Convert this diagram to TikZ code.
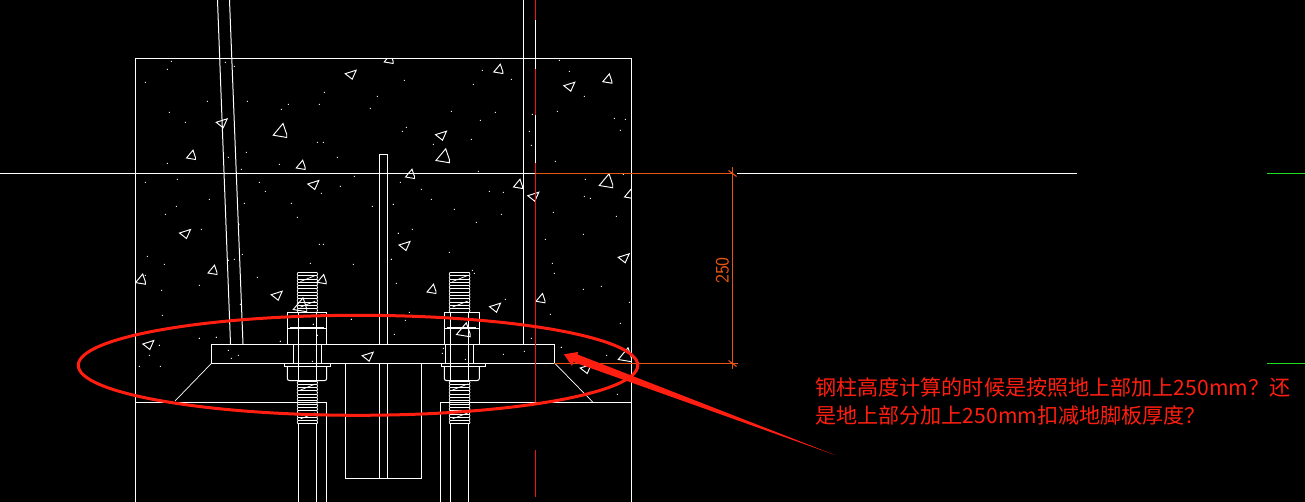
\documentclass[tikz,border=0pt]{standalone}
\usepackage{fontspec}
\newfontfamily\cjkfont{Noto Sans CJK SC}
\usetikzlibrary{shapes.geometric, positioning}
\definecolor{cadWhite}{RGB}{255, 255, 255}
\definecolor{cadRed}{RGB}{240, 20, 20}
\definecolor{dimOrange}{RGB}{235, 85, 20}
\definecolor{gridGreen}{RGB}{30, 220, 30}
\definecolor{noteRed}{RGB}{255, 30, 15}
\tikzset{
    % Line Styles
    cadLine/.style={draw=cadWhite, line width=1pt},
    thinLine/.style={draw=cadWhite, line width=0.7pt},
    threadLine/.style={draw=cadWhite, line width=1pt, line cap=round},
    centerLine/.style={draw=cadRed, line width=1pt},
    dimLine/.style={draw=dimOrange, line width=0.9pt},
    gridLine/.style={draw=gridGreen, line width=1pt},
    % Aggregate Styles
    stoneUp/.style={draw=cadWhite, line width=0.95pt},
    sandDot/.style={fill=cadWhite},
    % Markup Styles
    noteRing/.style={ellipse, draw=noteRed, line width=3pt, minimum width=559.5pt, minimum height=100pt, inner sep=0pt},
    noteText/.style={font=\cjkfont\fontsize{21.1}{28}\selectfont, text=noteRed, align=left, inner sep=0pt, anchor=west},
    dimText/.style={font=\sffamily\fontsize{19}{19}\selectfont, text=dimOrange, rotate=90, inner sep=0pt}
}
% flat based stone, centre x, centre y, size
\newcommand{\stoneA}[3]{\draw[stoneUp] (#1+2*#3,#2-4.8*#3) -- (#1-4.5*#3,#2+3*#3) -- (#1+4.5*#3,#2+4.5*#3) -- (#1+4.5*#3,#2+2.5*#3) -- cycle;}
% left pointing stone, centre x, centre y
\newcommand{\stoneB}[2]{\draw[stoneUp] (#1-5.5,#2-1) -- (#1+5.5,#2-4.5) -- (#1+1.5,#2+4.5) -- cycle;}
% thread stack, left x, right x, top y, last row
\newcommand{\threadStack}[4]{
    \foreach \tn in {0,...,#4} {
        \draw[threadLine] (#1+0.5,#3+\tn*3.3) -- (#2-0.5,#3+\tn*3.3);
    }
    \foreach \tn in {1,...,#4} {
        \draw[thinLine] (#1+0.5,#3+\tn*3.3-3.3) -- (#1-0.3,#3+\tn*3.3-1.65) -- (#1+0.5,#3+\tn*3.3);
        \draw[thinLine] (#2-0.5,#3+\tn*3.3-3.3) -- (#2+0.3,#3+\tn*3.3-1.65) -- (#2-0.5,#3+\tn*3.3);
    }
    \draw[thinLine] (#1+3,#3+9) -- (#2-2,#3+3);
    \draw[thinLine] (#1+3,#3+#4*3.3-5) -- (#2-2,#3+#4*3.3-11);
}
\begin{document}
\begin{tikzpicture}[x=1pt, y=-1pt]

    % --- Background ---
    \useasboundingbox (0,0) rectangle (1305,502);
    \fill[black] (0,0) rectangle (1305,502);

    % --- Concrete Outline ---
    \draw[cadLine] (135.5,502) -- (135.5,58.5) -- (631,58.5) -- (631,502);
    \draw[cadLine] (135.5,402.3) -- (326.7,402.3) -- (326.7,502);
    \draw[cadLine] (631,402.3) -- (440.3,402.3) -- (440.3,502);

    % --- Aggregate ---
    \begin{scope}
        \clip (135.5,58.5) rectangle (631,402);
        \foreach \sx/\sy/\ss in {191/155/1, 280/130.7/1.5, 300.7/165/1, 388.7/59/1, 212.5/270/1,
            498.3/69/1, 607.3/78.7/1, 442.7/156/1.5, 410/174/1, 518/184/1, 606/181/1.5, 629/194/1,
            140.5/279.3/1.1, 321.7/279.3/1, 300/305/1.5, 431.5/289/1, 540.5/298.3/1, 463.3/330/1.5, 625/355/1.5} {
            \stoneA{\sx}{\sy}{\ss}
        }
        \foreach \sx/\sy in {350.7/74.7, 221.7/123.3, 313.3/185, 185/234, 569.3/86.7, 441/135.7,
            533.3/196.7, 404.5/246, 623.7/258.3, 276.7/295.7, 148.3/345, 367.7/356.7, 495/307.7, 585.7/369} {
            \stoneB{\sx}{\sy}
        }
    \end{scope}

    % --- Sand Dots ---
    \foreach \zx/\zy in {124/184,112/208,46/247,232/304,118/337,166/367,286/187,313/199,352/304,475/313,
        454/328,583/277,568/313,742/289,721/325,562/427,580/427,622/472,349/457,295/472,334/508,448/493,
        112/490,46/547,142/538,388/547,406/574,574/580,631/559,673/529,238/598,343/610,484/610,139/619,
        727/619,790/613,106/643,502/652,214/688,327/673,52/769,103/793,568/733,580/733,337/763,295/781,
        313/778,541/790,670/793,784/778,805/700} {
        \fill[sandDot] (130+\zx/3,\zy/3) circle (0.6);
    }
    \foreach \zx/\zy in {508/181,538/214,277/211,364/238,250/253,43/241,583/289,502/334,184/334,316/337,
        271/361,49/382,37/394,418/394,427/343,424/436,244/418,130/433,673/355,706/358,691/391,496/484,
        265/514,31/547,94/568,586/538,700/523,298/574,340/577,124/598,583/589,601/595,10/613,193/628,
        334/643,490/637,679/649,259/667,25/700,67/688,580/703,466/718,178/757,487/790,4/778} {
        \fill[sandDot] (390+\zx/3,\zy/3) circle (0.6);
    }
    \foreach \zx/\zy in {382/307,208/331,95/346,97/421,331/388,46/301,664/433,208/490,259/487,88/511,
        451/499,550/448,562/481} {
        \fill[sandDot] (130+\zx/3,175+\zy/3) circle (0.6);
    }
    \foreach \zx/\zy in {262/286,268/295,34/325,361/373,733/382,595/343,649/334,73/412,61/436,496/418,
        706/445,28/478,439/490,508/295,529/517} {
        \fill[sandDot] (385+\zx/3,175+\zy/3) circle (0.6);
    }
    \foreach \zx/\zy in {604/262,740/286,430/283,493/274,250/265,247/280,316/298,772/403,688/397} {
        \fill[sandDot] (360+\zx/3,260+\zy/3) circle (0.6);
    }
    \foreach \zx/\zy in {268/256,238/286,208/319,271/319,388/235,439/232,475/271,484/295,505/286,631/244,
        727/304,844/178,730/193,742/226} {
        \fill[sandDot] (70+\zx/3,260+\zy/3) circle (0.6);
    }

    % --- Column Lines ---
    \draw[cadLine] (217.5,0) -- (230.5,344);
    \draw[cadLine] (229.5,0) -- (243,344);
    \draw[cadLine] (523.3,0) -- (523.3,344);
    \draw[cadLine] (379.3,344) -- (379.3,154.3) -- (387.5,154.3) -- (387.5,344);
    \draw[cadLine] (379.3,363.5) -- (379.3,478.3);
    \draw[cadLine] (387.5,363.5) -- (387.5,478.3);
    \draw[cadLine] (345.3,363.5) -- (345.3,478.3) -- (421.7,478.3) -- (421.7,363.5);

    % --- Base Plate ---
    \draw[cadLine] (211.3,344.3) rectangle (554.3,363.5);
    \draw[thinLine] (211.3,363.5) -- (175,401);
    \draw[thinLine] (555,363.5) -- (592.7,402);

    % --- Anchor Bolts ---
    \foreach \nutL/\nutR/\plateL/\plateR/\rodL/\rodR/\washL/\washR/\thrL/\thrR in {
        287.3/326.7/293.3/321.7/298.3/316.3/284/330/297.5/317.3,
        444.3/479.3/445.7/473.3/450.3/468.7/441/485/449.5/469.7} {
        % upper nut
        \draw[cadLine] (\nutL,344.3) -- (\nutL,312.3) -- (\nutR,312.3) -- (\nutR,344.3);
        \draw[thinLine] (\nutL,328) -- (\nutR,328);
        \draw[draw=cadWhite, line width=1.3pt] (\nutL+3,328) -- (\nutR-3,328);
        % bolt through the plate
        \draw[cadLine] (\rodL,312.3) -- (\rodL,380);
        \draw[cadLine] (\rodR,312.3) -- (\rodR,380);
        \draw[cadLine] (\plateL,344.3) -- (\plateL,363.5);
        \draw[cadLine] (\plateR,344.3) -- (\plateR,363.5);
        % washer and lower nut
        \draw[cadLine] (\washL,363.5) -- (\washL,366.5) -- (\washR,366.5) -- (\washR,363.5);
        \draw[cadLine, rounded corners=2pt] (\nutL,366.5) -- (\nutL,380.5) -- (\nutR,380.5) -- (\nutR,366.5);
        % threads and shank
        \threadStack{\thrL}{\thrR}{272.5}{12}
        \threadStack{\thrL}{\thrR}{381}{13}
        \draw[cadLine] (\rodL,424) -- (\rodL,502);
        \draw[cadLine] (\rodR,424) -- (\rodR,502);
    }

    % --- Center Line ---
    \draw[cadWhite, line width=1pt] (535.3,0) -- (535.3,163);
    \draw[centerLine] (535.3,0) -- (535.3,20);
    \draw[centerLine] (535.3,69) -- (535.3,115);
    \draw[centerLine] (535.3,163) -- (535.3,402.3);
    \draw[centerLine] (535.3,450) -- (535.3,497);

    % --- Level Lines ---
    \draw[cadLine] (0,173.5) -- (535.3,173.5);
    \draw[cadLine] (737,173.5) -- (1077,173.5);
    \draw[dimLine] (535.3,173.5) -- (732.5,173.5);
    \draw[dimLine] (554.3,363.5) -- (737.5,363.5);
    \draw[gridLine] (1267,173.5) -- (1305,173.5);
    \draw[gridLine] (1267,363.5) -- (1305,363.5);

    % --- Dimension ---
    \coordinate (dimTop) at (732.5,167);
    \coordinate (dimBottom) at (732.5,368.5);
    \draw[dimLine] (dimTop) -- (dimBottom);
    \draw[dimLine, line width=1.1pt] (728.5,170.5) -- (736.5,176.5);
    \draw[dimLine, line width=1.1pt] (728.5,360.5) -- (736.5,366.5);
    \node (dimValue) [dimText] at (722.5,270.5) {250};

    % --- Markup ---
    \node (ring) [noteRing] at (358,365.3) {};
    \coordinate (tip) at (564,354.3);
    \coordinate (tail) at (835,455);
    \fill[noteRed] (tip) -- (578,352) -- (577.5,354.5) -- (tail) -- (573.5,362) -- (572,366) -- cycle;
    \node (note) [noteText] at (815,401) {钢柱高度计算的时候是按照地上部加上250mm？还\\是地上部分加上250mm扣减地脚板厚度？};

\end{tikzpicture}
\end{document}
